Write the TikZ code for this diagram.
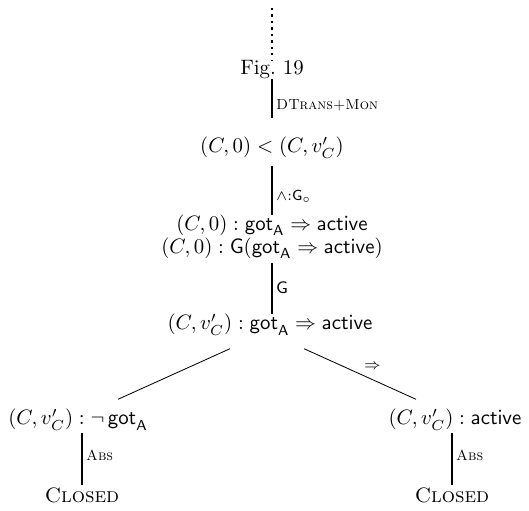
\documentclass[tikz,border=0pt]{standalone}
\usepackage{amssymb, amsfonts, amsmath}
\usepackage{tikz}
\usetikzlibrary{calc}

\tikzset{
  every node/.style={inner sep=0pt, outer sep=0pt},
  rulelab/.style={font=\scriptsize, anchor=west, inner sep=2pt},
  stepline/.style={line width=1.1pt},
  branchline/.style={line width=0.4pt},
}

\begin{document}
\begin{tikzpicture}[x=0.48pt,y=-0.48pt]
\useasboundingbox (0,0) rectangle (529,511);

\node (fig) at (272,70) {Fig.~19};
\node (lt) at (272,148) {$(C,0) < (C,v'_C)$};
\node[align=center, execute at begin node={\setlength{\baselineskip}{11pt}}] (prem) at (272,236.5)
  {$(C,0) : \mathsf{got}_{\mathsf{A}} \Rightarrow \mathsf{active}$\\
   $(C,0) : \mathsf{G}(\mathsf{got}_{\mathsf{A}} \Rightarrow \mathsf{active})$};
\node (impB) at (270,325) {$(C,v'_C) : \mathsf{got}_{\mathsf{A}} \Rightarrow \mathsf{active}$};
\node (notgot) at (78,420) {$(C,v'_C) : \neg\,\mathsf{got}_{\mathsf{A}}$};
\node (act) at (455,420) {$(C,v'_C) : \mathsf{active}$};
\node (closedL) at (82,495) {\textsc{Closed}};
\node (closedR) at (452,495) {\textsc{Closed}};

\coordinate (top) at (272,8);
\draw[line width=1.1pt, dotted] (top) -- (fig.north -| top);

% vertical steps
\draw[stepline, shorten >=9.4pt] (fig.south -| top) -- (lt.north -| top) node[rulelab, pos=0.44] {\textsc{DTrans+Mon}};
\draw[stepline, shorten <=3.6pt] (lt.south -| top) -- (prem.north -| top) node[rulelab, pos=0.67] {$\wedge{:}\mathsf{G}_\circ$};
\draw[stepline, shorten <=2.2pt] (prem.south -| top) -- (impB.north -| top) node[rulelab, font=\footnotesize, pos=0.52] {$\mathsf{G}$};

% branches
\draw[branchline] ($(impB.south)+(-40,13)$) -- ($(notgot.north)+(40,-10)$);
\draw[branchline] ($(impB.south)+(34,13)$) -- ($(act.north)+(-39,-10)$) node[pos=0.5, anchor=south west, inner sep=2pt, font=\scriptsize] {$\Rightarrow$};

\draw[stepline, shorten <=1.25pt, shorten >=1.4pt] (notgot.south -| closedL) -- (closedL.north) node[rulelab, pos=0.44] {\textsc{Abs}};
\draw[stepline, shorten <=1.25pt, shorten >=1.4pt] (act.south -| closedR) -- (closedR.north) node[rulelab, pos=0.44] {\textsc{Abs}};
\end{tikzpicture}
\end{document}
